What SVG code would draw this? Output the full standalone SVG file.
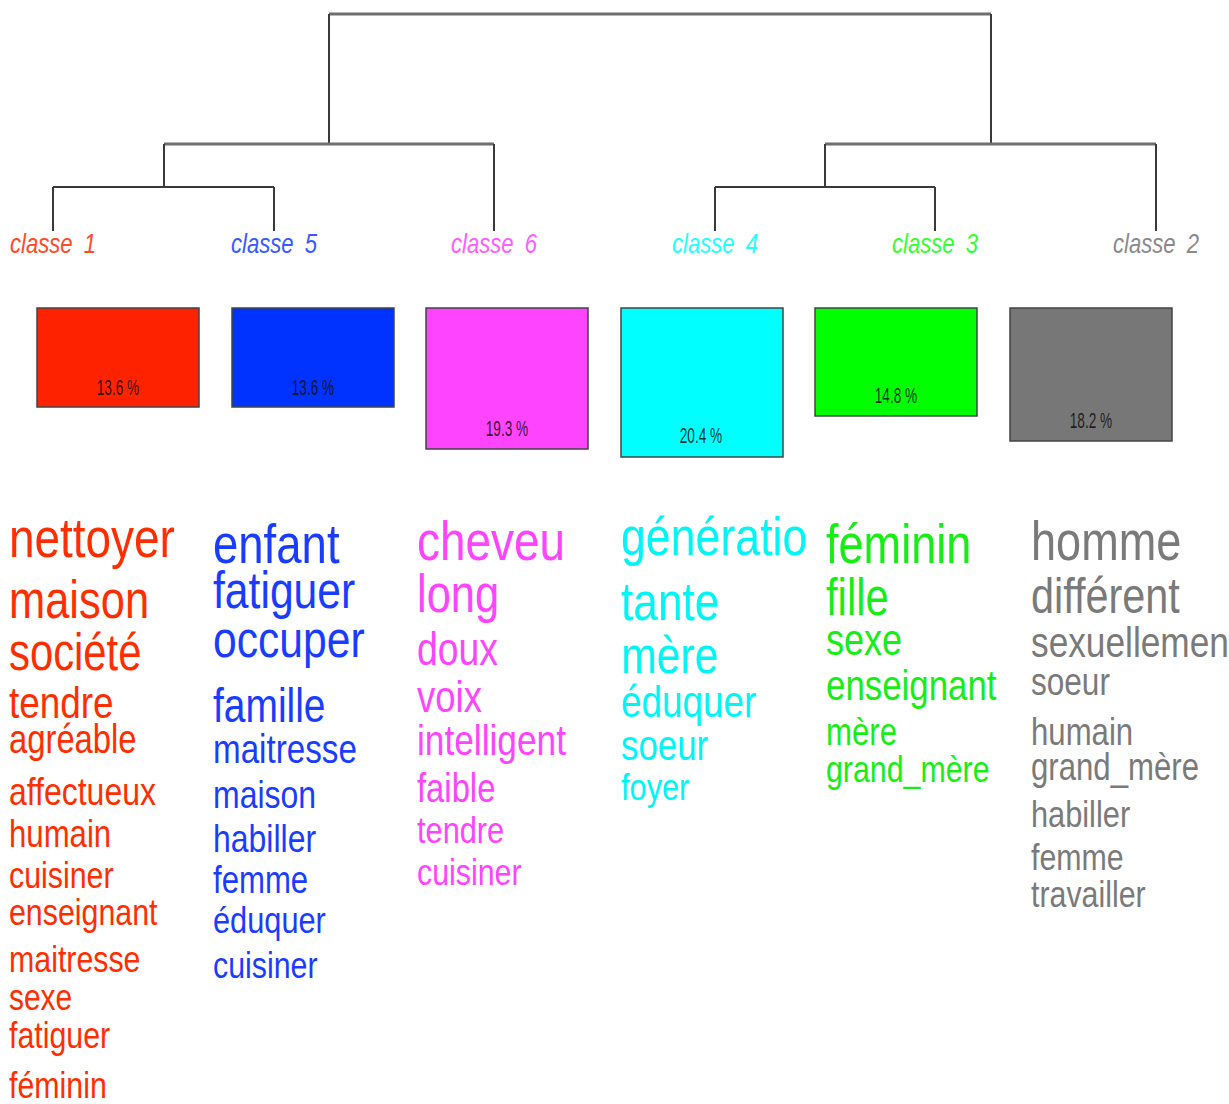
<svg xmlns="http://www.w3.org/2000/svg" width="1229" height="1104" viewBox="0 0 1229 1104">
  <style>
    text { font-family: "Liberation Sans", Arial, sans-serif; }
    .lbl { font-size: 27px; font-style: italic; text-anchor: middle; word-spacing: 6px; }
    .pct { font-size: 22px; text-anchor: middle; fill: #111111; fill-opacity: 0.88; }
    .box { stroke: #444; stroke-width: 1.5; }
    .thin { stroke: #3a3a3a; stroke-width: 2; fill: none; }
    .thick { stroke: #6e6e6e; stroke-width: 3; fill: none; }
    .c1 { fill: #ff2e00; } .c5 { fill: #1a3cff; } .c6 { fill: #ff44ff; }
    .c4 { fill: #00f5f5; } .c3 { fill: #16ee16; } .c2 { fill: #7a7a7a; }
    .l1 { fill: #ff4a2a; } .l5 { fill: #3a58ff; } .l6 { fill: #ff5cff; }
    .l4 { fill: #22ffff; } .l3 { fill: #33ff33; } .l2 { fill: #8a8a8a; }
  </style>
  <rect width="1229" height="1104" fill="#ffffff"/>

  <!-- dendrogram branches -->
  <g id="connectors">
    <path class="thick" d="M329 14 H991"/>
    <path class="thin" d="M329 14 V144 M991 14 V144"/>
    <path class="thick" d="M164 144 H494 M825 144 H1156"/>
    <path class="thin" d="M164 144 V187 M825 144 V187"/>
    <path class="thin" d="M53 187 H274 M715 187 H935"/>
    <path class="thin" d="M53 187 V231 M274 187 V231 M494 144 V231 M715 187 V231 M935 187 V231 M1156 144 V231"/>
  </g>

  <!-- classe 1 -->
  <g id="classe1">
    <g transform="translate(53,0) scale(0.82,1)"><text class="lbl l1" x="0" y="253">classe 1</text></g>
    <rect class="box" x="37" y="308" width="162" height="99" fill="#ff2200"/>
    <g transform="translate(118,0) scale(0.62,1)"><text class="pct" x="0" y="395">13.6 %</text></g>
    <g class="c1" transform="translate(9,0) scale(0.82,1)">
      <text x="0" y="557" font-size="56">nettoyer</text>
      <text x="0" y="618" font-size="53">maison</text>
      <text x="0" y="670" font-size="51">société</text>
      <text x="0" y="718" font-size="45">tendre</text>
      <text x="0" y="753" font-size="40">agréable</text>
      <text x="0" y="805" font-size="39">affectueux</text>
      <text x="0" y="847" font-size="38">humain</text>
      <text x="0" y="888" font-size="37">cuisiner</text>
      <text x="0" y="925" font-size="37">enseignant</text>
      <text x="0" y="972" font-size="37">maitresse</text>
      <text x="0" y="1010" font-size="36.5">sexe</text>
      <text x="0" y="1048" font-size="37">fatiguer</text>
      <text x="0" y="1098" font-size="37">féminin</text>
    </g>
  </g>

  <!-- classe 5 -->
  <g id="classe5">
    <g transform="translate(274,0) scale(0.82,1)"><text class="lbl l5" x="0" y="253">classe 5</text></g>
    <rect class="box" x="232" y="308" width="162" height="99" fill="#0033ff"/>
    <g transform="translate(313,0) scale(0.62,1)"><text class="pct" x="0" y="395">13.6 %</text></g>
    <g class="c5" transform="translate(213,0) scale(0.82,1)">
      <text x="0" y="563" font-size="55.5">enfant</text>
      <text x="0" y="608" font-size="52">fatiguer</text>
      <text x="0" y="657" font-size="52">occuper</text>
      <text x="0" y="722" font-size="47.5">famille</text>
      <text x="0" y="763" font-size="40.5">maitresse</text>
      <text x="0" y="808" font-size="39">maison</text>
      <text x="0" y="852" font-size="39">habiller</text>
      <text x="0" y="893" font-size="38">femme</text>
      <text x="0" y="933" font-size="37.5">éduquer</text>
      <text x="0" y="978" font-size="37">cuisiner</text>
    </g>
  </g>

  <!-- classe 6 -->
  <g id="classe6">
    <g transform="translate(494,0) scale(0.82,1)"><text class="lbl l6" x="0" y="253">classe 6</text></g>
    <rect class="box" x="426" y="308" width="162" height="141" fill="#ff44ff"/>
    <g transform="translate(507,0) scale(0.62,1)"><text class="pct" x="0" y="436">19.3 %</text></g>
    <g class="c6" transform="translate(417,0) scale(0.82,1)">
      <text x="0" y="560" font-size="56">cheveu</text>
      <text x="0" y="612" font-size="53">long</text>
      <text x="0" y="665" font-size="45.5">doux</text>
      <text x="0" y="712" font-size="44.5">voix</text>
      <text x="0" y="755" font-size="43">intelligent</text>
      <text x="0" y="802" font-size="40">faible</text>
      <text x="0" y="843" font-size="37.5">tendre</text>
      <text x="0" y="885" font-size="37">cuisiner</text>
    </g>
  </g>

  <!-- classe 4 -->
  <g id="classe4">
    <g transform="translate(715,0) scale(0.82,1)"><text class="lbl l4" x="0" y="253">classe 4</text></g>
    <rect class="box" x="621" y="308" width="162" height="149" fill="#00ffff"/>
    <g transform="translate(701,0) scale(0.62,1)"><text class="pct" x="0" y="443">20.4 %</text></g>
    <g class="c4" transform="translate(621,0) scale(0.82,1)">
      <text x="0" y="555" font-size="54.5">génératio</text>
      <text x="0" y="620" font-size="54">tante</text>
      <text x="0" y="673" font-size="52">mère</text>
      <text x="0" y="717" font-size="45">éduquer</text>
      <text x="0" y="760" font-size="42.5">soeur</text>
      <text x="0" y="800" font-size="37.5">foyer</text>
    </g>
  </g>

  <!-- classe 3 -->
  <g id="classe3">
    <g transform="translate(935,0) scale(0.82,1)"><text class="lbl l3" x="0" y="253">classe 3</text></g>
    <rect class="box" x="815" y="308" width="162" height="108" fill="#00ff00"/>
    <g transform="translate(896,0) scale(0.62,1)"><text class="pct" x="0" y="403">14.8 %</text></g>
    <g class="c3" transform="translate(826,0) scale(0.82,1)">
      <text x="0" y="563" font-size="55">féminin</text>
      <text x="0" y="615" font-size="51">fille</text>
      <text x="0" y="655" font-size="44">sexe</text>
      <text x="0" y="700" font-size="42.5">enseignant</text>
      <text x="0" y="745" font-size="38">mère</text>
      <text x="0" y="782" font-size="37">grand_mère</text>
    </g>
  </g>

  <!-- classe 2 -->
  <g id="classe2">
    <g transform="translate(1156,0) scale(0.82,1)"><text class="lbl l2" x="0" y="253">classe 2</text></g>
    <rect class="box" x="1010" y="308" width="162" height="133" fill="#777777"/>
    <g transform="translate(1091,0) scale(0.62,1)"><text class="pct" x="0" y="428">18.2 %</text></g>
    <g class="c2" transform="translate(1031,0) scale(0.82,1)">
      <text x="0" y="560" font-size="55">homme</text>
      <text x="0" y="613" font-size="50.5">différent</text>
      <text x="0" y="657" font-size="43">sexuellemen</text>
      <text x="0" y="695" font-size="38.5">soeur</text>
      <text x="0" y="745" font-size="38">humain</text>
      <text x="0" y="780" font-size="38">grand_mère</text>
      <text x="0" y="827" font-size="37.5">habiller</text>
      <text x="0" y="870" font-size="37">femme</text>
      <text x="0" y="907" font-size="37">travailler</text>
    </g>
  </g>
</svg>
